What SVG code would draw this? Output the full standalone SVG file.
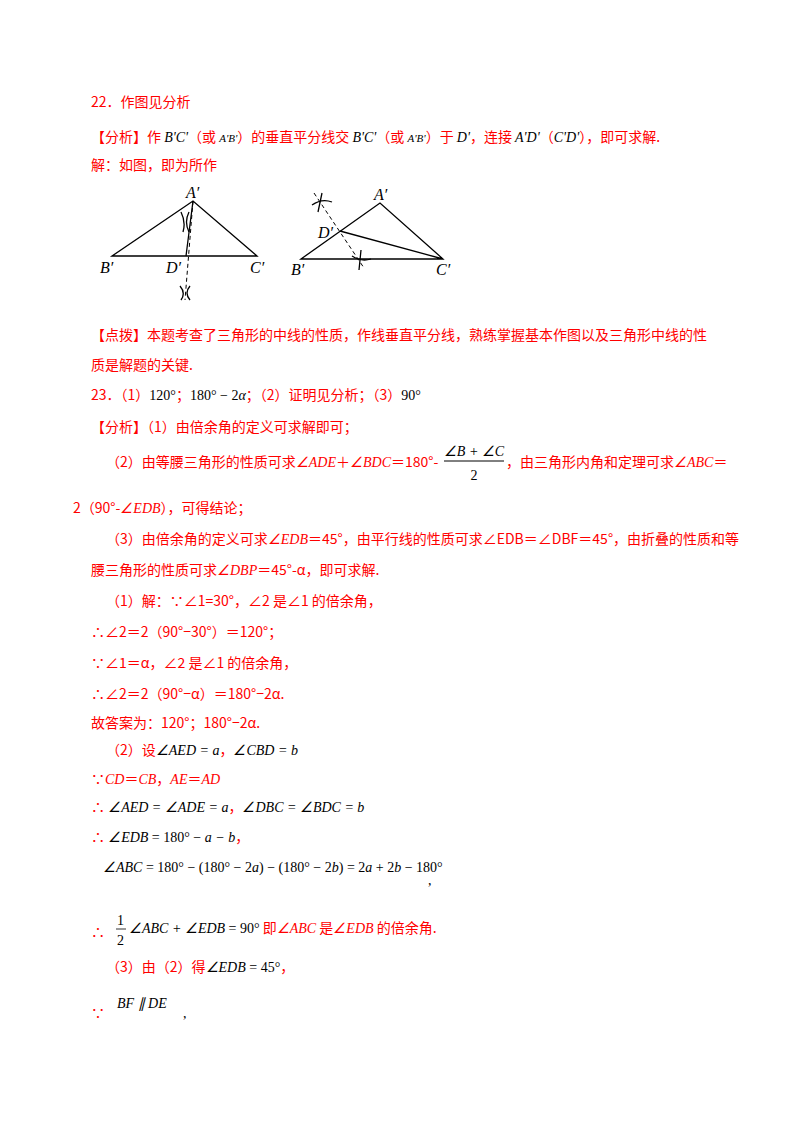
<svg xmlns="http://www.w3.org/2000/svg" width="800" height="1132" viewBox="0 0 800 1132">
<style>
text{font-family:"Noto Sans CJK SC","Noto Sans",sans-serif;font-size:14px;fill:#ff0000}
.m{font-family:"Liberation Serif",serif;font-style:italic;fill:#000}
.mr{font-family:"Liberation Serif",serif;fill:#000}
.ri{font-family:"Liberation Serif",serif;font-style:italic;fill:#ff0000}
.fl{font-family:"Liberation Serif",serif;font-style:italic;fill:#000;font-size:16px}
.ln{stroke:#000;stroke-width:1.3;fill:none}
.ds{stroke:#000;stroke-width:1;fill:none;stroke-dasharray:4 3}
</style>
<rect width="800" height="1132" fill="#fff"/>
<text x="91" y="107">22．作图见分析</text>
<text x="91" y="142">【分析】作 <tspan class="m">B'C'</tspan>（或 <tspan class="m" font-size="11">A'B'</tspan>）的垂直平分线交 <tspan class="m">B'C'</tspan>（或 <tspan class="m" font-size="11">A'B'</tspan>）于 <tspan class="m">D'</tspan>，连接 <tspan class="m">A'D'</tspan>（<tspan class="m">C'D'</tspan>），即可求解.</text>
<text x="91" y="170">解：如图，即为所作</text>
<g id="fig1">
<path class="ln" d="M112 256 L193 201 L257 256 Z M193 201 L186 256"/>
<path class="ds" d="M193 201 L185 300"/>
<path class="ln" d="M181 212 Q186 222 183 232 M189 212 Q184 222 189 232 M180 286 Q186 293 181 300 M190 286 Q184 293 190 300"/>
<text class="fl" x="186" y="198">A′</text>
<text class="fl" x="100" y="273">B′</text>
<text class="fl" x="166" y="273">D′</text>
<text class="fl" x="250" y="273">C′</text>
</g>
<g id="fig2">
<path class="ln" d="M301 259 L380 203 L443 259 Z M340 231 L443 259"/>
<path class="ds" d="M314 193 L364 268"/>
<path class="ln" d="M312 205 Q322 198 332 202 M322 193 L318 212 M352 256 Q361 262 371 259 M361 250 L359 270"/>
<text class="fl" x="374" y="200">A′</text>
<text class="fl" x="291" y="275">B′</text>
<text class="fl" x="318" y="238">D′</text>
<text class="fl" x="436" y="275">C′</text>
</g>
<text x="91" y="340">【点拨】本题考查了三角形的中线的性质，作线垂直平分线，熟练掌握基本作图以及三角形中线的性</text>
<text x="91" y="370">质是解题的关键.</text>
<text x="91" y="400">23．（1）<tspan class="mr">120°</tspan>；<tspan class="mr">180° − 2<tspan font-style="italic">α</tspan></tspan>；（2）证明见分析；（3）<tspan class="mr">90°</tspan></text>
<text x="91" y="432">【分析】（1）由倍余角的定义可求解即可；</text>
<text x="106" y="467">（2）由等腰三角形的性质可求<tspan class="ri">∠ADE</tspan>＋<tspan class="ri">∠BDC</tspan>＝180°-</text>
<text class="m" x="474" y="456" text-anchor="middle">∠B + ∠C</text>
<line x1="444" y1="461" x2="504" y2="461" stroke="#000" stroke-width="1"/>
<text class="mr" x="474" y="480" text-anchor="middle">2</text>
<text x="506" y="467">，由三角形内角和定理可求<tspan class="ri">∠ABC</tspan>＝</text>
<text x="73" y="513">2（90°-<tspan class="ri">∠EDB</tspan>），可得结论；</text>
<text x="106" y="544">（3）由倍余角的定义可求<tspan class="ri">∠EDB</tspan>＝45°，由平行线的性质可求∠EDB＝∠DBF＝45°，由折叠的性质和等</text>
<text x="91" y="575">腰三角形的性质可求<tspan class="ri">∠DBP</tspan>＝45°-α，即可求解.</text>
<text x="106" y="606">（1）解：∵∠1=30°，∠2 是∠1 的倍余角，</text>
<text x="91" y="637">∴∠2＝2（90°−30°）＝120°；</text>
<text x="91" y="668">∵∠1＝α，∠2 是∠1 的倍余角，</text>
<text x="91" y="699">∴∠2＝2（90°−α）＝180°−2α.</text>
<text x="91" y="728">故答案为：120°；180°−2α.</text>
<text x="106" y="755">（2）设<tspan class="m">∠AED = a</tspan>，<tspan class="m">∠CBD = b</tspan></text>
<text x="91" y="784">∵<tspan class="ri">CD</tspan>＝<tspan class="ri">CB</tspan>，<tspan class="ri">AE</tspan>＝<tspan class="ri">AD</tspan></text>
<text x="91" y="812">∴ <tspan class="m">∠AED = ∠ADE = a</tspan>，<tspan class="m">∠DBC = ∠BDC = b</tspan></text>
<text x="91" y="842">∴ <tspan class="m">∠EDB</tspan><tspan class="mr"> = 180° − </tspan><tspan class="m">a − b</tspan>，</text>
<text class="mr" x="103" y="872"><tspan font-style="italic">∠ABC</tspan> = 180° − (180° − 2<tspan font-style="italic">a</tspan>) − (180° − 2<tspan font-style="italic">b</tspan>) = 2<tspan font-style="italic">a</tspan> + 2<tspan font-style="italic">b</tspan> − 180°</text>
<text class="mr" x="428" y="885">,</text>
<text x="91" y="937">∴</text>
<text class="mr" x="117" y="925">1</text>
<line x1="116" y1="929" x2="126" y2="929" stroke="#000" stroke-width="0.8"/>
<text class="mr" x="117" y="945">2</text>
<text x="129" y="933"><tspan class="m">∠ABC + ∠EDB</tspan><tspan class="mr"> = 90°</tspan> 即<tspan class="ri">∠ABC</tspan> 是<tspan class="ri">∠EDB</tspan> 的倍余角.</text>
<text x="106" y="972">（3）由（2）得<tspan class="m">∠EDB</tspan><tspan class="mr"> = 45°</tspan>，</text>
<text x="91" y="1018">∵</text>
<text class="m" x="117" y="1008" font-size="16">BF ∥ DE</text>
<text class="mr" x="183" y="1018">,</text>
</svg>
